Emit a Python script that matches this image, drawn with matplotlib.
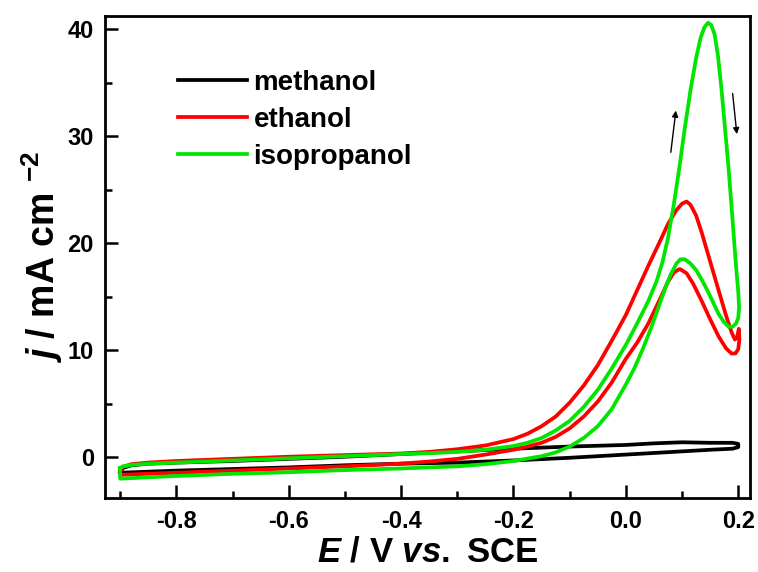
import numpy as np
import matplotlib
matplotlib.use('Agg')
import matplotlib.pyplot as plt
from matplotlib.ticker import MultipleLocator

# methanol: forward (anodic) and reverse scan
meth_fwd_E = [-0.9, -0.895, -0.88, -0.85, -0.8, -0.7, -0.6, -0.5, -0.4, -0.3,
              -0.2, -0.1, 0.0, 0.05, 0.1, 0.15, 0.19, 0.2]
meth_fwd_j = [-1.4, -1.0, -0.75, -0.6, -0.5, -0.35, -0.15, 0.05, 0.3, 0.55,
              0.8, 1.0, 1.15, 1.3, 1.4, 1.35, 1.35, 1.25]
meth_rev_E = [0.2, 0.19, 0.15, 0.1, 0.0, -0.1, -0.2, -0.3, -0.4, -0.5, -0.6,
              -0.7, -0.8, -0.9, -0.9]
meth_rev_j = [0.95, 0.8, 0.7, 0.55, 0.25, -0.05, -0.3, -0.5, -0.6, -0.75,
              -0.95, -1.1, -1.25, -1.45, -1.4]

# ethanol
eth_fwd_E = [-0.9, -0.895, -0.88, -0.85, -0.8, -0.7, -0.6, -0.5, -0.4, -0.35,
             -0.3, -0.25, -0.2, -0.175, -0.15, -0.125, -0.1, -0.075, -0.05,
             -0.025, 0.0, 0.02, 0.04, 0.06, 0.075, 0.09, 0.1, 0.108, 0.115,
             0.125, 0.135, 0.15, 0.165, 0.178, 0.188, 0.194, 0.198, 0.201]
eth_fwd_j = [-1.3, -0.9, -0.65, -0.5, -0.35, -0.15, 0.05, 0.2, 0.35, 0.5,
             0.75, 1.1, 1.7, 2.2, 2.9, 3.8, 5.1, 6.7, 8.6,
             10.9, 13.3, 15.6, 17.9, 20.1, 21.8, 23.1, 23.7, 23.9, 23.6,
             22.6, 21.0, 18.3, 15.6, 13.3, 11.7, 11.0, 11.2, 12.0]
eth_rev_E = [0.202, 0.2, 0.195, 0.188, 0.178, 0.165, 0.15, 0.135, 0.12, 0.108,
             0.096, 0.086, 0.075, 0.06, 0.04, 0.02, 0.0, -0.025, -0.05, -0.075,
             -0.1, -0.125, -0.15, -0.175, -0.2, -0.25, -0.3, -0.35, -0.4, -0.5,
             -0.6, -0.7, -0.8, -0.88, -0.9, -0.9]
eth_rev_j = [11.0, 10.1, 9.7, 9.7, 10.2, 11.3, 12.9, 14.6, 16.2, 17.2,
             17.6, 17.3, 16.4, 14.7, 12.5, 10.7, 9.2, 7.0, 5.2, 3.8,
             2.7, 1.9, 1.35, 1.0, 0.7, 0.25, -0.15, -0.4, -0.6, -0.85,
             -1.05, -1.25, -1.45, -1.6, -1.65, -1.3]

# isopropanol
iso_fwd_E = [-0.9, -0.895, -0.88, -0.85, -0.8, -0.7, -0.6, -0.5, -0.4, -0.35,
             -0.3, -0.25, -0.2, -0.175, -0.15, -0.125, -0.1, -0.075, -0.05,
             -0.025, 0.0, 0.02, 0.04, 0.055, 0.065, 0.075, 0.085, 0.095, 0.105,
             0.115, 0.125, 0.133, 0.14, 0.146, 0.152, 0.158, 0.164, 0.17,
             0.176, 0.182, 0.188, 0.193, 0.197, 0.2, 0.2015]
iso_fwd_j = [-1.0, -0.85, -0.72, -0.6, -0.5, -0.3, -0.1, 0.1, 0.3, 0.38,
             0.5, 0.7, 1.05, 1.35, 1.8, 2.5, 3.4, 4.7, 6.3,
             8.3, 10.5, 12.5, 14.6, 16.5, 18.2, 20.5, 23.5, 27.0, 30.8,
             34.3, 37.3, 39.2, 40.2, 40.6, 40.4, 39.5, 37.5, 34.5,
             31.0, 27.5, 23.5, 20.0, 17.3, 15.5, 14.0]
iso_rev_E = [0.2, 0.196, 0.19, 0.183, 0.175, 0.165, 0.155, 0.145, 0.135, 0.125,
             0.115, 0.105, 0.097, 0.09, 0.08, 0.07, 0.06, 0.045, 0.03, 0.015,
             0.0, -0.025, -0.05, -0.075, -0.1, -0.125, -0.15, -0.2, -0.25,
             -0.3, -0.4, -0.5, -0.6, -0.7, -0.8, -0.88, -0.9, -0.9]
iso_rev_j = [13.0, 12.5, 12.2, 12.2, 12.6, 13.4, 14.5, 15.6, 16.6, 17.5,
             18.1, 18.5, 18.5, 18.1, 17.1, 15.8, 14.3, 12.1, 10.1, 8.3,
             6.8, 4.5, 2.9, 1.8, 1.0, 0.45, 0.1, -0.35, -0.65,
             -0.85, -1.05, -1.2, -1.4, -1.55, -1.75, -1.95, -2.0, -1.0]

labels = ['methanol', 'ethanol', 'isopropanol']
colors = ['#000000', '#ff0000', '#00e600']

# scan direction arrows (tail, head)
arrow_up = [(0.080, 28.5), (0.089, 32.4)]
arrow_down = [(0.190, 34.0), (0.1975, 30.2)]


plt.rcParams['font.family'] = 'Liberation Sans'
plt.rcParams['font.weight'] = 'bold'
plt.rcParams['mathtext.fontset'] = 'custom'
plt.rcParams['mathtext.it'] = 'Liberation Sans:italic:bold'
plt.rcParams['mathtext.rm'] = 'Liberation Sans:bold'
plt.rcParams['mathtext.bf'] = 'Liberation Sans:bold'

fig = plt.figure(figsize=(7.58, 5.72), dpi=100)
ax = fig.add_axes([0.1385, 0.1299, 0.851, 0.8427])

curves = [(meth_fwd_E + meth_rev_E, meth_fwd_j + meth_rev_j),
          (eth_fwd_E + eth_rev_E, eth_fwd_j + eth_rev_j),
          (iso_fwd_E + iso_rev_E, iso_fwd_j + iso_rev_j)]
for (E, j), lab, col in zip(curves, labels, colors):
    ax.plot(E, j, color=col, lw=2.7, label=lab, solid_joinstyle='round')

for tail, head in (arrow_up, arrow_down):
    ax.annotate('', xy=head, xytext=tail,
                arrowprops=dict(arrowstyle='-|>', color='k', lw=1.0,
                                mutation_scale=9, shrinkA=0, shrinkB=0))

ax.set_xlim(-0.927, 0.221)
ax.set_ylim(-3.78, 41.27)
ax.xaxis.set_major_locator(MultipleLocator(0.2))
ax.xaxis.set_minor_locator(MultipleLocator(0.1))
ax.yaxis.set_major_locator(MultipleLocator(10))
ax.yaxis.set_minor_locator(MultipleLocator(5))
ax.xaxis.set_major_formatter(matplotlib.ticker.FuncFormatter(lambda v, p: '%.1f' % v))
ax.tick_params(which='both', direction='in', width=1.8, top=False, right=False)
ax.tick_params(which='major', length=9.5)
ax.tick_params(which='minor', length=5)
ax.tick_params(axis='x', labelsize=17, pad=9)
ax.tick_params(axis='y', labelsize=17, pad=8)
for sp in ax.spines.values():
    sp.set_linewidth(2)

ax.set_xlabel(r'$E$ / V $vs.$ SCE', fontsize=25, fontweight='bold', labelpad=2)
ax.set_ylabel(r'$j$ / mA cm $^{-2}$', fontsize=27, fontweight='bold', labelpad=2)

ax.legend(loc='upper left', bbox_to_anchor=(0.113, 0.888), frameon=False,
          fontsize=20, handlelength=2.5, handletextpad=0.22, labelspacing=0.4,
          borderpad=0, borderaxespad=0)

fig.savefig('out.png', dpi=100)
